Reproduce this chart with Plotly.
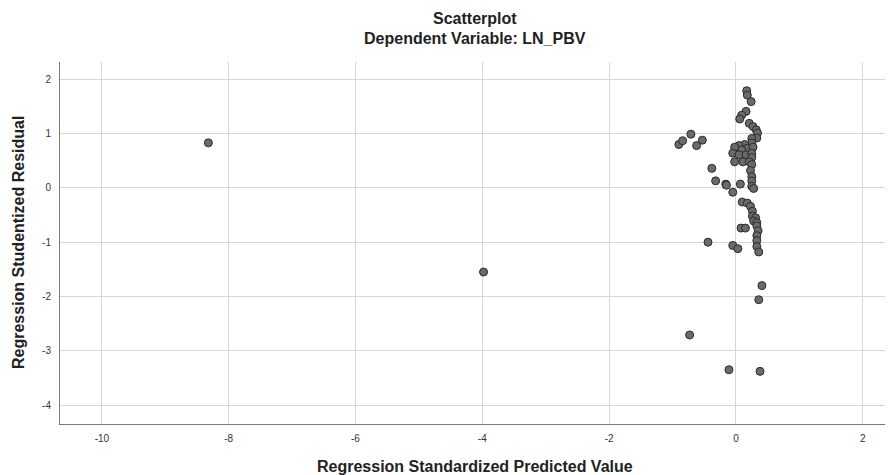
import plotly.graph_objects as go

# Regression Standardized Predicted Value (x) and Studentized Residual (y)
predicted = [
    -8.32, -3.98,
    -0.90, -0.84, -0.71, -0.62, -0.53, -0.38, -0.32, -0.16, -0.05, -0.44, -0.73,
    0.17, 0.18, 0.24, 0.16, 0.09, 0.06, 0.21, 0.27, 0.32, 0.34, 0.33,
    0.25, 0.25, 0.14, 0.05, -0.02, 0.18, 0.27, 0.09, -0.05, 0.05, 0.16, 0.25,
    0.25, -0.02, 0.11, 0.21, 0.25, 0.23, 0.25, -0.15, 0.07, 0.25, 0.25,
    0.28, 0.10, 0.18, 0.23, 0.26, 0.26, 0.31, 0.28, 0.33, 0.33, 0.08, 0.15,
    0.35, 0.33, 0.33, 0.33, -0.05, 0.03, 0.36,
    0.41, 0.36, -0.11, 0.38,
]
residual = [
    0.83, -1.55,
    0.80, 0.87, 0.99, 0.78, 0.88, 0.36, 0.13, 0.07, -0.08, -1.00, -2.71,
    1.79, 1.71, 1.59, 1.41, 1.34, 1.27, 1.19, 1.13, 1.07, 1.01, 0.92,
    0.91, 0.83, 0.80, 0.78, 0.75, 0.73, 0.75, 0.70, 0.64, 0.61, 0.61, 0.64,
    0.56, 0.48, 0.48, 0.48, 0.43, 0.32, 0.21, 0.05, 0.07, 0.13, 0.03,
    -0.01, -0.26, -0.28, -0.34, -0.43, -0.52, -0.55, -0.61, -0.64, -0.70, -0.74, -0.74,
    -0.79, -0.88, -0.97, -1.08, -1.06, -1.12, -1.18,
    -1.80, -2.06, -3.35, -3.38,
]

x_ticks = [-10, -8, -6, -4, -2, 0, 2]
x_tick_labels = ["-10", "-8", "-6", "-4", "-2", "0", "2"]
y_ticks = [2, 1, 0, -1, -2, -3, -4]
y_tick_labels = ["2", "1", "0", "-1", "-2", "-3", "-4"]

fig = go.Figure()
fig.add_trace(go.Scatter(
    x=predicted, y=residual, mode="markers",
    marker=dict(size=8, color="#6a6a6a", line=dict(color="#2b2b2b", width=1)),
    showlegend=False,
))

font_family = "Liberation Sans, Arial, sans-serif"
title_font = dict(size=16, color="#222222")
axis_title_font = dict(size=16, color="#222222")
tick_font = dict(size=10, color="#333333")

# page body adds an 8px offset, so the figure is sized/margined to compensate
fig.update_layout(
    width=885, height=467,
    margin=dict(l=52, r=3, t=54, b=51),
    paper_bgcolor="white", plot_bgcolor="white",
    font=dict(family=font_family, color="#222222"),
    annotations=[
        dict(text="<b>Scatterplot</b>", xref="paper", yref="paper",
             x=0.5, y=1, yshift=44, showarrow=False,
             font=title_font, xanchor="center", yanchor="middle"),
        dict(text="<b>Dependent Variable: LN_PBV</b>", xref="paper", yref="paper",
             x=0.5, y=1, yshift=24, showarrow=False,
             font=title_font, xanchor="center", yanchor="middle"),
        dict(text="<b>Regression Standardized Predicted Value</b>", xref="paper", yref="paper",
             x=0.5, y=0, yshift=-42, showarrow=False,
             font=axis_title_font, xanchor="center", yanchor="middle"),
        dict(text="<b>Regression Studentized Residual</b>", xref="paper", yref="paper",
             x=0, y=0.5, xshift=-42, showarrow=False, textangle=-90,
             font=axis_title_font, xanchor="center", yanchor="middle"),
    ],
    xaxis=dict(
        range=[-10.66, 2.43], tickvals=x_ticks, ticktext=x_tick_labels,
        showgrid=True, gridcolor="#d6d6d6", gridwidth=1, zeroline=False,
        showline=True, linecolor="#7a7a7a", linewidth=1, automargin=False,
        ticks="", ticklen=0, tickfont=tick_font, ticklabelstandoff=5,
    ),
    yaxis=dict(
        range=[-4.35, 2.32], tickvals=y_ticks, ticktext=y_tick_labels,
        showgrid=True, gridcolor="#d6d6d6", gridwidth=1, zeroline=False,
        showline=True, linecolor="#7a7a7a", linewidth=1, automargin=False,
        ticks="", ticklen=0, tickfont=tick_font, ticklabelstandoff=6,
    ),
)

fig.write_html("out.html")
